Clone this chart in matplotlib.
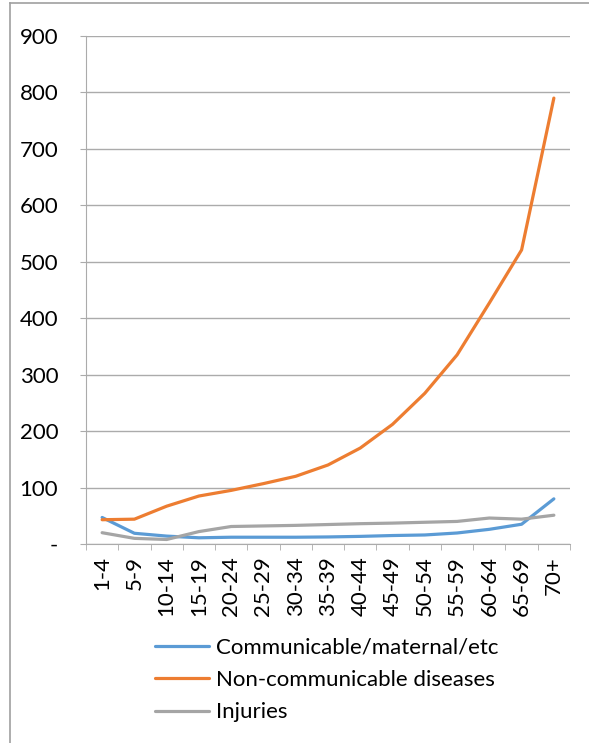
import numpy as np
import matplotlib.pyplot as plt
from matplotlib.lines import Line2D

ages = ['1-4', '5-9', '10-14', '15-19', '20-24', '25-29', '30-34', '35-39',
        '40-44', '45-49', '50-54', '55-59', '60-64', '65-69', '70+']
communicable = [47, 19, 14, 11, 12, 12, 12, 12.5, 13.5, 15, 16, 19.5, 26, 35, 80]
noncommunicable = [43, 44, 67, 85, 95, 107, 120, 140, 170, 212, 267, 335, 427, 521, 790]
injuries = [20, 10, 8, 22, 31, 32, 33, 34.5, 36, 37, 38.5, 40, 46, 44, 51]

plt.rcParams['font.family'] = ['Lato', 'DejaVu Sans']
fs = 16

W, H = 589, 743
fig = plt.figure(figsize=(W/100, H/100), dpi=100)
ax = fig.add_axes([86/W, 1-544/H, (570-86)/W, (544-36)/H])

x = np.arange(len(ages))
grid_c = '#ABABAB'
ax.plot(x, communicable, color='#5B9BD5', lw=2.3, label='Communicable/maternal/etc', solid_capstyle='round')
ax.plot(x, noncommunicable, color='#ED7D31', lw=2.3, label='Non-communicable diseases', solid_capstyle='round')
ax.plot(x, injuries, color='#A5A5A5', lw=2.3, label='Injuries', solid_capstyle='round')

ax.set_xlim(-0.5, len(ages)-0.5)
ax.set_ylim(0, 900)
ax.set_yticks(np.arange(0, 901, 100))
ax.set_yticklabels(['-'] + [str(v) for v in range(100, 901, 100)], fontsize=fs)
ax.yaxis.grid(True, color=grid_c, lw=1)
ax.set_axisbelow(True)
ax.tick_params(axis='y', length=4.5, color=grid_c, pad=15.5)

ax.set_xticks(x)
ax.set_xticklabels(ages, rotation=90, fontsize=fs)
ax.tick_params(axis='x', which='major', length=0, pad=9)
ax.set_xticks(np.arange(-0.5, len(ages)), minor=True)
ax.tick_params(axis='x', which='minor', length=4.5, color=grid_c)

for s in ['top', 'right']:
    ax.spines[s].set_visible(False)
ax.spines['left'].set_color(grid_c)
ax.spines['bottom'].set_color(grid_c)

leg = fig.legend(loc='upper left', bbox_to_anchor=(155/W, 1-638/H), frameon=False,
                 fontsize=fs, handlelength=2.45, labelspacing=0.55, handletextpad=0.3,
                 borderaxespad=0, borderpad=0)

# outer chart border (only top and left visible in frame)
fig.add_artist(Line2D([10/W, 10/W], [0, 1-3/H], color='#A0A0A0', lw=1.2))
fig.add_artist(Line2D([10/W, 1], [1-3/H, 1-3/H], color='#A0A0A0', lw=1.2))

fig.savefig('out.png', dpi=100)
